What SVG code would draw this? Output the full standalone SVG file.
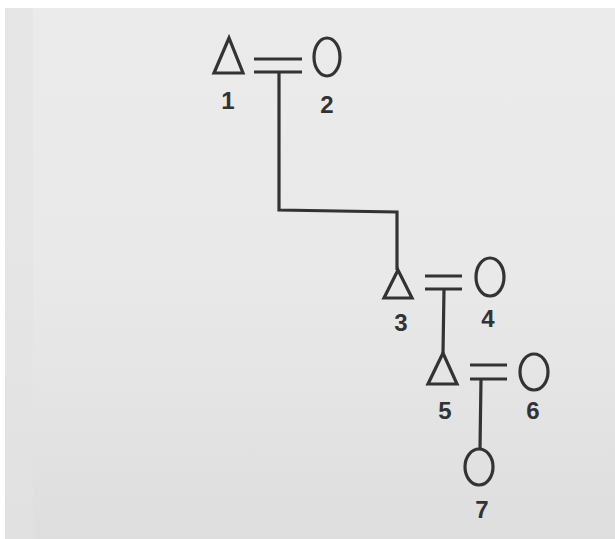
<svg xmlns="http://www.w3.org/2000/svg" width="615" height="539" viewBox="0 0 615 539">
<defs>
<linearGradient id="paper" x1="0" y1="0" x2="0" y2="1">
<stop offset="0" stop-color="#ebebeb"/>
<stop offset="0.5" stop-color="#e9e9e9"/>
<stop offset="1" stop-color="#dedede"/>
</linearGradient>
<style>
.sym{fill:none;stroke:#333333;stroke-width:3.2;stroke-linejoin:miter}
.ln{fill:none;stroke:#333333;stroke-width:3.2}
.lbl{font-family:"Liberation Sans",Arial,sans-serif;font-weight:bold;font-size:24px;fill:#333333;text-anchor:middle}
</style>
</defs>
<rect x="0" y="0" width="615" height="539" fill="#ffffff"/>
<rect x="5" y="8" width="610" height="531" fill="url(#paper)"/>
<rect x="5" y="8" width="28" height="531" fill="#e2e2e2" opacity="0.6"/>
<g id="connectors">
<line class="ln" x1="254" y1="59" x2="302" y2="59"/>
<line class="ln" x1="254" y1="72" x2="302" y2="72"/>
<polyline class="ln" points="279,72 279,210 397,212 397,270"/>
<line class="ln" x1="425" y1="276" x2="462" y2="276"/>
<line class="ln" x1="425" y1="289" x2="462" y2="289"/>
<line class="ln" x1="444" y1="289" x2="443" y2="353"/>
<line class="ln" x1="470" y1="365" x2="507" y2="365"/>
<line class="ln" x1="470" y1="379" x2="507" y2="379"/>
<line class="ln" x1="481" y1="379" x2="480" y2="449"/>
</g>
<g id="node1">
<polygon class="sym" points="229,38 214,73 243,73"/>
<text class="lbl" x="228" y="109">1</text>
</g>
<g id="node2">
<ellipse class="sym" cx="327" cy="57" rx="13" ry="19"/>
<text class="lbl" x="327" y="113">2</text>
</g>
<g id="node3">
<polygon class="sym" points="398,270 384,298 412,298"/>
<text class="lbl" x="401" y="331">3</text>
</g>
<g id="node4">
<ellipse class="sym" cx="490" cy="277" rx="14" ry="19"/>
<text class="lbl" x="488" y="327">4</text>
</g>
<g id="node5">
<polygon class="sym" points="443,353 428,384 457,384"/>
<text class="lbl" x="445" y="419">5</text>
</g>
<g id="node6">
<ellipse class="sym" cx="534" cy="372" rx="14" ry="18"/>
<text class="lbl" x="533" y="419">6</text>
</g>
<g id="node7">
<ellipse class="sym" cx="479" cy="467" rx="14" ry="18"/>
<text class="lbl" x="482" y="518">7</text>
</g>
</svg>
